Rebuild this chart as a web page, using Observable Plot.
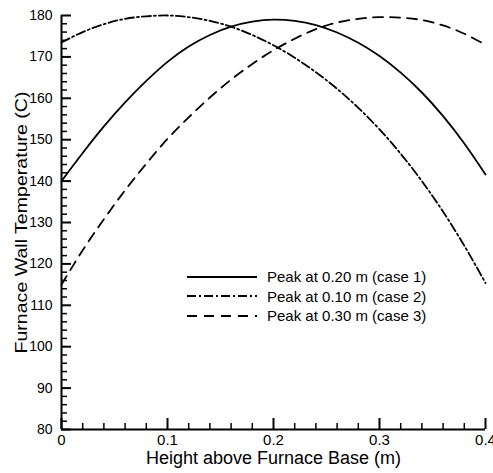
<!DOCTYPE html>
<html><head><meta charset="utf-8">
<script src="https://cdn.jsdelivr.net/npm/d3@7"></script>
<script src="https://cdn.jsdelivr.net/npm/@observablehq/plot@0.6"></script>
<style>
body{margin:0;background:#fff;font-family:"Liberation Sans",Arial,sans-serif}
#wrap{position:relative;width:493px;height:473px}
#legend{position:absolute;left:187px;top:267px;font-size:15px;color:#000}
#legend .row{display:flex;align-items:center;height:19.5px}
#legend svg{margin-right:10px}
</style>
</head><body><div id="wrap"><div id="chart"></div><div id="legend"></div></div>
<script>
const heights = [0,0.02,0.04,0.06,0.08,0.10,0.12,0.14,0.16,0.18,0.20,0.22,0.24,0.26,0.28,0.30,0.32,0.34,0.36,0.38,0.40];
const case1 = [140,146.8,153.2,159.0,164.2,168.8,172.5,175.3,177.3,178.5,179,178.7,177.7,175.9,173.4,170.2,166.2,161.4,155.7,149.1,141.6];
const case2 = [173.5,176,177.9,179.2,179.8,180,179.6,178.7,177.3,175.3,172.8,169.8,166.3,162.3,157.7,152.5,146.6,140.0,132.6,124.4,115.4];
const case3 = [115,123.3,130.8,137.8,144.2,150.2,155.4,160.2,164.5,168.3,171.6,174.4,176.7,178.3,179.2,179.6,179.5,178.9,177.6,175.6,172.9];
const seriesNames = ["Peak at 0.20 m (case 1)","Peak at 0.10 m (case 2)","Peak at 0.30 m (case 3)"];
const seriesDash = [null,"9,3,2,3","10,7"];
const xTicks = [0,0.1,0.2,0.3,0.4];
const xMinor = [0.02,0.04,0.06,0.08,0.12,0.14,0.16,0.18,0.22,0.24,0.26,0.28,0.32,0.34,0.36,0.38];
const yTicks = [80,90,100,110,120,130,140,150,160,170,180];
const yMinor = [82,84,86,88,92,94,96,98,102,104,106,108,112,114,116,118,122,124,126,128,132,134,136,138,142,144,146,148,152,154,156,158,162,164,166,168,172,174,176,178];
const xTitle = "Height above Furnace Base (m)";
const yTitle = "Furnace Wall Temperature (C)";

const allSeries = [case1, case2, case3];
const rows = [];
allSeries.forEach((vals, s) => vals.forEach((v, i) => rows.push({x: heights[i], y: v, s})));

const lineMarks = allSeries.map((vals, s) =>
  Plot.line(rows.filter(d => d.s === s), {x: "x", y: "y", stroke: "#000", strokeWidth: 1.8,
    strokeDasharray: seriesDash[s] || undefined, curve: "catmull-rom"}));

const chart = Plot.plot({
  width: 493, height: 473,
  marginLeft: 61, marginRight: 8, marginTop: 15, marginBottom: 44,
  style: {fontFamily: "'Liberation Sans', Arial, sans-serif", fontSize: "15px", color: "#000", background: "#fff"},
  x: {domain: [0, 0.4]},
  y: {domain: [80, 180]},
  marks: [
    ...lineMarks,
    Plot.axisY({ticks: yMinor, tickSize: -6, text: null, label: null, strokeWidth: 1.5}),
    Plot.axisY({ticks: yTicks, tickSize: -10, text: null, label: null, strokeWidth: 2}),
    Plot.axisY({ticks: yTicks, tickSize: 0, tickPadding: 9, label: null, fontSize: 14}),
    Plot.axisX({ticks: xMinor, tickSize: -6, text: null, label: null, strokeWidth: 1.5}),
    Plot.axisX({ticks: xTicks, tickSize: -11, text: null, label: null, strokeWidth: 2}),
    Plot.axisX({ticks: xTicks, tickSize: 0, tickPadding: 5, label: null, fontSize: 15, tickFormat: d => d === 0 ? "0" : String(d)}),
    Plot.ruleX([0], {stroke: "#000", strokeWidth: 2}),
    Plot.ruleY([80], {stroke: "#000", strokeWidth: 2}),
    Plot.text([xTitle], {frameAnchor: "bottom", dy: 34, fontSize: 18, fill: "#000"}),
    Plot.text([yTitle], {frameAnchor: "left", textAnchor: "middle", dx: -40, rotate: -90, fontSize: 17, fill: "#000"})
  ]
});
chart.querySelectorAll("text").forEach(t => {
  if (t.textContent === yTitle) {
    t.setAttribute("textLength", "262");
    t.setAttribute("lengthAdjust", "spacingAndGlyphs");
  }
});
document.getElementById("chart").appendChild(chart);

const legend = document.getElementById("legend");
seriesNames.forEach((name, s) => {
  const row = document.createElement("div");
  row.className = "row";
  const dash = seriesDash[s] ? ` stroke-dasharray="${seriesDash[s]}"` : "";
  row.innerHTML = `<svg width="70" height="6"><line x1="0" y1="3" x2="70" y2="3" stroke="#000" stroke-width="1.8"${dash}/></svg><span>${name}</span>`;
  legend.appendChild(row);
});
</script></body></html>
